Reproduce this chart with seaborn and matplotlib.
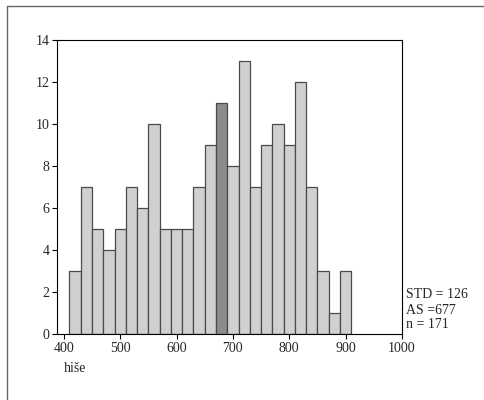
import numpy as np
import pandas as pd
import matplotlib
matplotlib.use("Agg")
import matplotlib.pyplot as plt
import seaborn as sns
from matplotlib.lines import Line2D

# Data
bin_edges = list(range(410, 911, 20))
counts = [3, 7, 5, 4, 5, 7, 6, 10, 5, 5, 5, 7, 9, 11, 8, 13, 7, 9, 10, 9, 12, 7, 3, 1, 3]
highlight_bin = 670
x_ticks = [400, 500, 600, 700, 800, 900, 1000]
y_ticks = [0, 2, 4, 6, 8, 10, 12, 14]
x_label = "hiše"
stats_lines = ["STD = 126", "AS =677", "n = 171"]

centers = [e + 10 for e in bin_edges[:-1]]
df = pd.DataFrame({"x": centers, "w": counts})

sns.set_style("white")
plt.rcParams["font.family"] = ["Liberation Serif", "DejaVu Serif"]

fig = plt.figure(figsize=(4.84, 4.00), dpi=100)
ax = fig.add_axes([57/484, 1-334/400, (402-57)/484, (334-40)/400])

sns.histplot(data=df, x="x", weights="w", bins=bin_edges, ax=ax,
             color="#d0d0d0", edgecolor="#4a4a4a", linewidth=0.9, alpha=1.0)

for p in ax.patches:
    if abs(p.get_x() - highlight_bin) < 1e-6:
        p.set_facecolor("#8c8c8c")

ax.set_xlim(388, 1000)
ax.set_ylim(0, 14)
ax.set_xticks(x_ticks)
ax.set_yticks(y_ticks)
ax.set_xlabel("")
ax.set_ylabel("")
ax.tick_params(axis="both", which="both", direction="out", length=3.5, width=0.8,
               labelsize=10, color="black", pad=2, bottom=True, left=True)
for s in ax.spines.values():
    s.set_visible(True)
    s.set_color("black")
    s.set_linewidth(0.8)

fig.text(64/484, 1-368/400, x_label, fontsize=10, va="center", ha="left")
for i, t in enumerate(stats_lines):
    fig.text(406/484, 1-(295 + i*15)/400, t, fontsize=10, va="center", ha="left")

# outer frame (left and top edges)
fig.add_artist(Line2D([7/484, 7/484], [0, 1-6/400], transform=fig.transFigure, color="#666666", lw=1))
fig.add_artist(Line2D([7/484, 1], [1-6/400, 1-6/400], transform=fig.transFigure, color="#666666", lw=1))

fig.savefig("out.png", dpi=100)
